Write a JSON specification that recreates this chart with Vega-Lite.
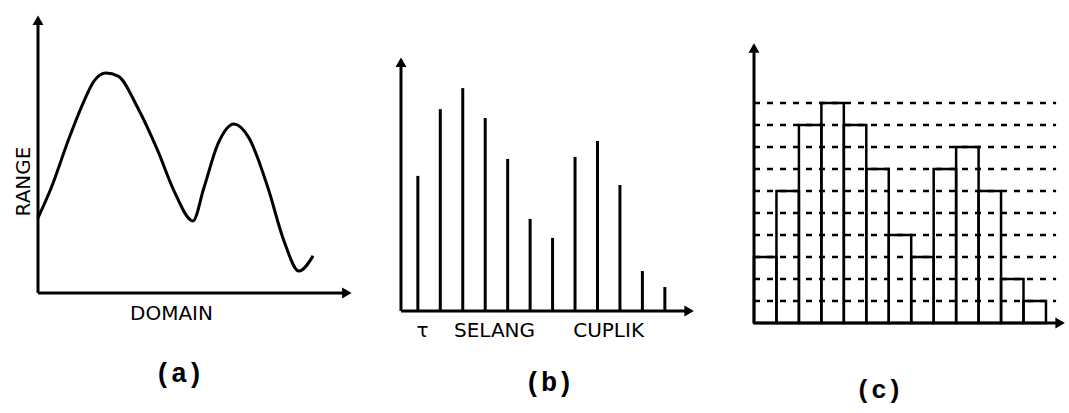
{
  "$schema": "https://vega.github.io/schema/vega-lite/v6.json",
  "background": "white",
  "padding": {"left": 13, "top": 15, "right": 0, "bottom": 4},
  "spacing": 0,
  "bounds": "flush",
  "config": {
    "view": {"stroke": null},
    "axis": {"domain": true, "domainOpacity": 0, "ticks": false, "labels": false, "grid": false, "titleFont": "DejaVu Sans", "titleFontSize": 20, "titleFontWeight": "normal", "titleColor": "black"},
    "title": {"font": "Liberation Mono", "fontSize": 27, "fontWeight": "bold", "color": "black", "orient": "bottom", "anchor": "middle", "frame": "group", "baseline": "alphabetic"}
  },
  "hconcat": [
    {
      "width": 363,
      "height": 277,
      "title": {"text": "(a)", "dx": -40.5, "offset": 38},
      "layer": [
        {
          "data": {"values": [
            {"t": 0, "v": 2.71}, {"t": 0.42, "v": 3.79}, {"t": 0.96, "v": 5.49}, {"t": 1.47, "v": 6.93},
            {"t": 1.79, "v": 7.65}, {"t": 2.17, "v": 7.94}, {"t": 2.56, "v": 7.83}, {"t": 3.19, "v": 6.68},
            {"t": 3.83, "v": 5.13}, {"t": 4.35, "v": 3.68}, {"t": 4.95, "v": 2.6}, {"t": 5.3, "v": 3.79},
            {"t": 5.75, "v": 5.38}, {"t": 6.26, "v": 6.1}, {"t": 6.74, "v": 5.6}, {"t": 7.35, "v": 3.79},
            {"t": 7.86, "v": 1.88}, {"t": 8.34, "v": 0.79}, {"t": 8.79, "v": 1.34}
          ]},
          "mark": {"type": "line", "interpolate": "monotone", "color": "black", "strokeWidth": 3},
          "encoding": {
            "x": {"field": "t", "type": "quantitative", "scale": {"domain": [0, 11.6], "nice": false, "zero": false},
                  "axis": {"title": "DOMAIN", "titleX": 133, "titleY": 26, "titleAlign": "center", "titleBaseline": "alphabetic"}},
            "y": {"field": "v", "type": "quantitative", "scale": {"domain": [0, 10], "nice": false, "zero": false},
                  "axis": {"title": "RANGE", "titleX": -9, "titleY": 165, "titleAlign": "center", "titleBaseline": "alphabetic"}}
          }
        },
        {
          "data": {"values": [{}]},
          "mark": {"type": "rule", "color": "black", "strokeWidth": 3},
          "encoding": {"x": {"datum": 0}, "x2": {"datum": 9.9}, "y": {"datum": 0}}
        },
        {
          "data": {"values": [{}]},
          "mark": {"type": "rule", "color": "black", "strokeWidth": 3},
          "encoding": {"x": {"datum": 0}, "y": {"datum": 0}, "y2": {"datum": 9.9}}
        },
        {
          "data": {"values": [{}]},
          "mark": {"type": "point", "shape": "triangle-right", "filled": true, "color": "black", "opacity": 1, "size": 120},
          "encoding": {"x": {"datum": 9.87}, "y": {"datum": 0}}
        },
        {
          "data": {"values": [{}]},
          "mark": {"type": "point", "shape": "triangle-up", "filled": true, "color": "black", "opacity": 1, "size": 120},
          "encoding": {"x": {"datum": 0}, "y": {"datum": 9.85}}
        }
      ]
    },
    {
      "width": 353,
      "height": 295,
      "title": {"text": "(b)", "dx": -28.5, "offset": 30},
      "layer": [
        {
          "data": {"values": [
            {"n": 1, "v": 5.34}, {"n": 2, "v": 7.98}, {"n": 3, "v": 8.81}, {"n": 4, "v": 7.63},
            {"n": 5, "v": 6.01}, {"n": 6, "v": 3.64}, {"n": 7, "v": 2.89}, {"n": 8, "v": 6.09},
            {"n": 9, "v": 6.72}, {"n": 10, "v": 4.98}, {"n": 11, "v": 1.58}, {"n": 12, "v": 0.95}
          ]},
          "mark": {"type": "rule", "color": "black", "strokeWidth": 3},
          "encoding": {
            "x": {"field": "n", "type": "quantitative", "scale": {"domain": [0.25, 15.97], "nice": false, "zero": false},
                  "axis": {"title": "τ\u00a0\u00a0\u00a0\u00a0SELANG\u00a0\u00a0\u00a0\u00a0\u00a0\u00a0CUPLIK", "titleX": 15, "titleY": 25, "titleAlign": "left", "titleBaseline": "alphabetic"}},
            "y": {"field": "v", "type": "quantitative", "scale": {"domain": [0, 11.66], "nice": false, "zero": false}, "axis": null},
            "y2": {"datum": 0}
          }
        },
        {
          "data": {"values": [{}]},
          "mark": {"type": "rule", "color": "black", "strokeWidth": 3},
          "encoding": {"x": {"datum": 0.25}, "x2": {"datum": 13.1}, "y": {"datum": 0, "axis": null}}
        },
        {
          "data": {"values": [{}]},
          "mark": {"type": "rule", "color": "black", "strokeWidth": 3},
          "encoding": {"x": {"datum": 0.25}, "y": {"datum": 0, "axis": null}, "y2": {"datum": 9.9}}
        },
        {
          "data": {"values": [{}]},
          "mark": {"type": "point", "shape": "triangle-right", "filled": true, "color": "black", "opacity": 1, "size": 120},
          "encoding": {"x": {"datum": 13.08}, "y": {"datum": 0, "axis": null}}
        },
        {
          "data": {"values": [{}]},
          "mark": {"type": "point", "shape": "triangle-up", "filled": true, "color": "black", "opacity": 1, "size": 120},
          "encoding": {"x": {"datum": 0.25}, "y": {"datum": 9.83, "axis": null}}
        }
      ]
    },
    {
      "width": 316,
      "height": 307,
      "title": {"text": "(c)", "dx": -33, "offset": 49, "fontSize": 26},
      "layer": [
        {
          "data": {"values": [
            {"level": 1}, {"level": 2}, {"level": 3}, {"level": 4}, {"level": 5},
            {"level": 6}, {"level": 7}, {"level": 8}, {"level": 9}, {"level": 10}
          ]},
          "mark": {"type": "rule", "color": "black", "strokeWidth": 2.5, "strokeDash": [6, 7]},
          "encoding": {
            "x": {"datum": 0, "axis": null},
            "x2": {"datum": 13.45},
            "y": {"field": "level", "type": "quantitative", "scale": {"domain": [0, 13.95], "nice": false, "zero": false}, "axis": null}
          }
        },
        {
          "data": {"values": [
            {"t0": 0, "t1": 1, "level": 3}, {"t0": 1, "t1": 2, "level": 6}, {"t0": 2, "t1": 3, "level": 9},
            {"t0": 3, "t1": 4, "level": 10}, {"t0": 4, "t1": 5, "level": 9}, {"t0": 5, "t1": 6, "level": 7},
            {"t0": 6, "t1": 7, "level": 4}, {"t0": 7, "t1": 8, "level": 3}, {"t0": 8, "t1": 9, "level": 7},
            {"t0": 9, "t1": 10, "level": 8}, {"t0": 10, "t1": 11, "level": 6}, {"t0": 11, "t1": 12, "level": 2},
            {"t0": 12, "t1": 13, "level": 1}
          ]},
          "mark": {"type": "rect", "fillOpacity": 0, "stroke": "black", "strokeWidth": 2.5},
          "encoding": {
            "x": {"field": "t0", "type": "quantitative", "scale": {"domain": [0, 14.07], "nice": false, "zero": false}, "axis": null},
            "x2": {"field": "t1"},
            "y": {"field": "level", "type": "quantitative", "axis": null},
            "y2": {"datum": 0}
          }
        },
        {
          "data": {"values": [{}]},
          "mark": {"type": "rule", "color": "black", "strokeWidth": 3},
          "encoding": {"x": {"datum": 0, "axis": null}, "x2": {"datum": 13.7}, "y": {"datum": 0, "axis": null}}
        },
        {
          "data": {"values": [{}]},
          "mark": {"type": "rule", "color": "black", "strokeWidth": 3},
          "encoding": {"x": {"datum": 0, "axis": null}, "y": {"datum": 0, "axis": null}, "y2": {"datum": 12.6}}
        },
        {
          "data": {"values": [{}]},
          "mark": {"type": "point", "shape": "triangle-right", "filled": true, "color": "black", "opacity": 1, "size": 120},
          "encoding": {"x": {"datum": 13.63, "axis": null}, "y": {"datum": 0, "axis": null}}
        },
        {
          "data": {"values": [{}]},
          "mark": {"type": "point", "shape": "triangle-up", "filled": true, "color": "black", "opacity": 1, "size": 120},
          "encoding": {"x": {"datum": 0, "axis": null}, "y": {"datum": 12.5, "axis": null}}
        }
      ]
    }
  ]
}
